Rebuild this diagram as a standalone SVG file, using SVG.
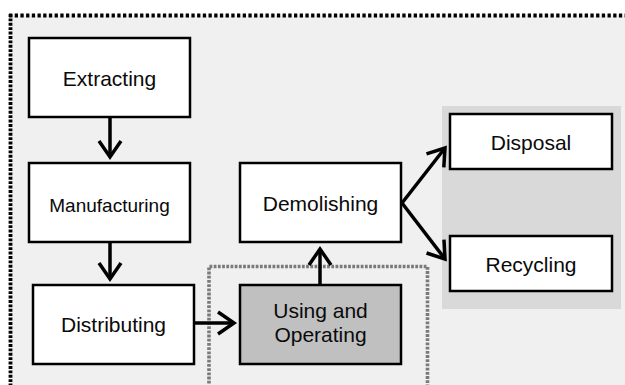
<svg xmlns="http://www.w3.org/2000/svg" width="625" height="385" viewBox="0 0 625 385">
  <style>
    .box { fill: #ffffff; stroke: #000000; stroke-width: 2.5; }
    .box.active { fill: #c0c0c0; }
    .label { font-family: "Liberation Sans", Arial, sans-serif; font-size: 21px; fill: #0a0a0a; text-anchor: middle; }
    .label.small { font-size: 19px; }
    .edge { fill: none; stroke: #000000; stroke-width: 3.5; marker-end: url(#head); }
  </style>
  <defs>
    <marker id="head" markerUnits="userSpaceOnUse" markerWidth="40" markerHeight="40" refX="0" refY="0" orient="auto" overflow="visible" viewBox="-20 -20 40 40">
      <path d="M-16,-11 L0,0 L-16,11" fill="none" stroke="#000000" stroke-width="3.5" stroke-linecap="butt" stroke-linejoin="miter"/>
    </marker>
  </defs>

  <!-- page background -->
  <rect x="0" y="0" width="625" height="385" fill="#ffffff"/>

  <!-- outer system boundary (dotted, runs off the right and bottom edges) -->
  <rect x="10.5" y="15.5" width="640" height="400" fill="#f0f0f0" stroke="none"/>
  <line x1="9" y1="15.5" x2="630" y2="15.5" stroke="#000000" stroke-width="3.8" stroke-dasharray="3.3 2.4"/>
  <line x1="10.5" y1="14" x2="10.5" y2="390" stroke="#000000" stroke-width="3.8" stroke-dasharray="2.9 1.5"/>

  <!-- end-of-life panel -->
  <rect x="442" y="106" width="179" height="203" fill="#d9d9d9"/>

  <!-- use-phase boundary (grey dotted) -->
  <path d="M209,392 L209,266.5 L427.5,266.5 L427.5,392" fill="none" stroke="#7a7a7a" stroke-width="3.6" stroke-dasharray="2.8 1.4"/>

  <g id="connectors">
    <line class="edge" x1="110" y1="118" x2="110" y2="157"/>
    <line class="edge" x1="110" y1="243" x2="110" y2="279"/>
    <line class="edge" x1="195" y1="323" x2="234" y2="323"/>
    <line class="edge" x1="320" y1="285" x2="320" y2="249"/>
    <line class="edge" x1="402" y1="203" x2="445" y2="148"/>
    <line class="edge" x1="402" y1="203" x2="445" y2="259"/>
  </g>

  <g id="extracting">
    <rect class="box" x="29" y="38" width="161" height="79"/>
    <text class="label" x="109.5" y="86">Extracting</text>
  </g>
  <g id="manufacturing">
    <rect class="box" x="29" y="163" width="161" height="79"/>
    <text class="label small" x="109.5" y="212">Manufacturing</text>
  </g>
  <g id="distributing">
    <rect class="box" x="33" y="285" width="161" height="79"/>
    <text class="label" x="113.5" y="332">Distributing</text>
  </g>
  <g id="demolishing">
    <rect class="box" x="240" y="163" width="161" height="79"/>
    <text class="label" x="320.5" y="210.5">Demolishing</text>
  </g>
  <g id="using-operating">
    <rect class="box active" x="240" y="285" width="161" height="79"/>
    <text class="label" x="320.5" y="318">Using and</text>
    <text class="label" x="320.5" y="342">Operating</text>
  </g>
  <g id="disposal">
    <rect class="box" x="450" y="114" width="162" height="55"/>
    <text class="label" x="531" y="150">Disposal</text>
  </g>
  <g id="recycling">
    <rect class="box" x="450" y="236" width="162" height="55"/>
    <text class="label" x="531" y="272">Recycling</text>
  </g>
</svg>
